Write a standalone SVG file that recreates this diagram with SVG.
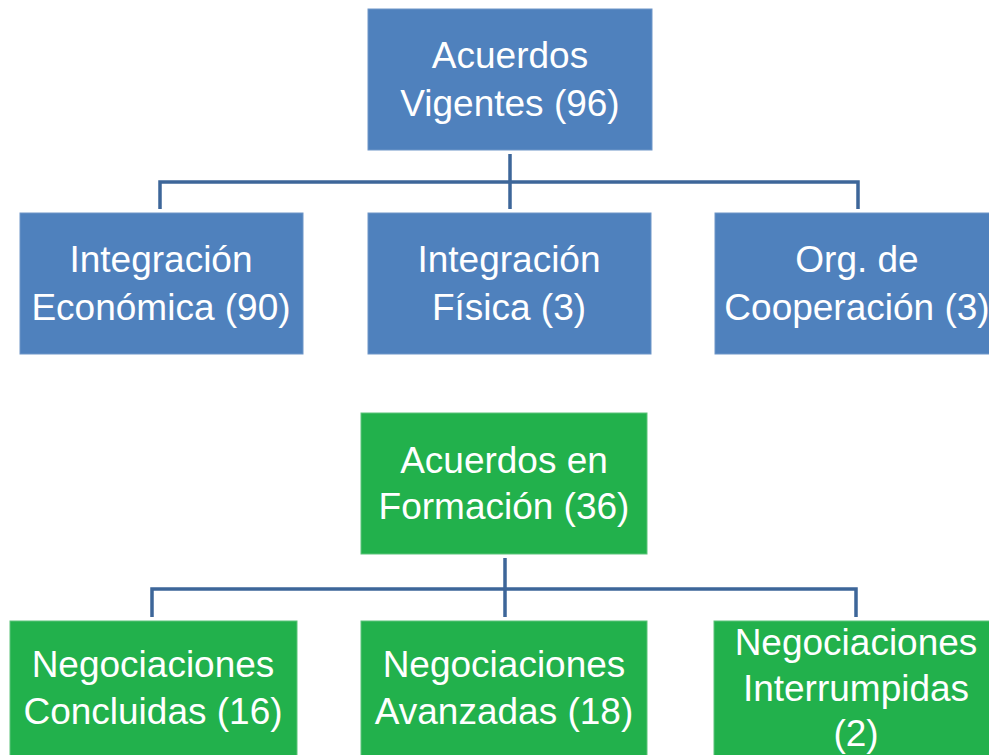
<svg xmlns="http://www.w3.org/2000/svg" width="989" height="755" viewBox="0 0 989 755">
<style>
.blue{fill:#4F81BD;stroke:#6F96C8;stroke-width:1}
.green{fill:#22B14C;stroke:#5CC47A;stroke-width:1}
.t{font-family:"Liberation Sans",Arial,sans-serif;font-size:37px;fill:#FFFFFF;text-anchor:middle}
.c{fill:none;stroke:#3D6699;stroke-width:3.5}
</style>
<rect width="989" height="755" fill="#FFFFFF"/>
<g id="connectors">
<path class="c" d="M510 154V209M160 209V182H858V209"/>
<path class="c" d="M505 558V617M152 617V589H856V617"/>
</g>
<g id="vigentes">
<rect class="blue" x="368" y="9" width="284" height="141"/>
<text class="t" x="510" y="68">Acuerdos</text>
<text class="t" x="510" y="116">Vigentes (96)</text>
</g>
<g id="economica">
<rect class="blue" x="20" y="213" width="283" height="141"/>
<text class="t" x="161" y="272">Integración</text>
<text class="t" x="161" y="320">Económica (90)</text>
</g>
<g id="fisica">
<rect class="blue" x="368" y="213" width="283" height="141"/>
<text class="t" x="509" y="272">Integración</text>
<text class="t" x="509" y="320">Física (3)</text>
</g>
<g id="cooperacion">
<rect class="blue" x="715" y="213" width="284" height="141"/>
<text class="t" x="857" y="272">Org. de</text>
<text class="t" x="857" y="320">Cooperación (3)</text>
</g>
<g id="formacion">
<rect class="green" x="361" y="413" width="286" height="141"/>
<text class="t" x="504" y="473">Acuerdos en</text>
<text class="t" x="504" y="519">Formación (36)</text>
</g>
<g id="concluidas">
<rect class="green" x="10" y="621" width="287" height="141"/>
<text class="t" x="153" y="677">Negociaciones</text>
<text class="t" x="153" y="724">Concluidas (16)</text>
</g>
<g id="avanzadas">
<rect class="green" x="361" y="621" width="286" height="141"/>
<text class="t" x="504" y="677">Negociaciones</text>
<text class="t" x="504" y="724">Avanzadas (18)</text>
</g>
<g id="interrumpidas">
<rect class="green" x="714" y="621" width="286" height="141"/>
<text class="t" x="856" y="655">Negociaciones</text>
<text class="t" x="856" y="701">Interrumpidas</text>
<text class="t" x="856" y="746">(2)</text>
</g>
</svg>
